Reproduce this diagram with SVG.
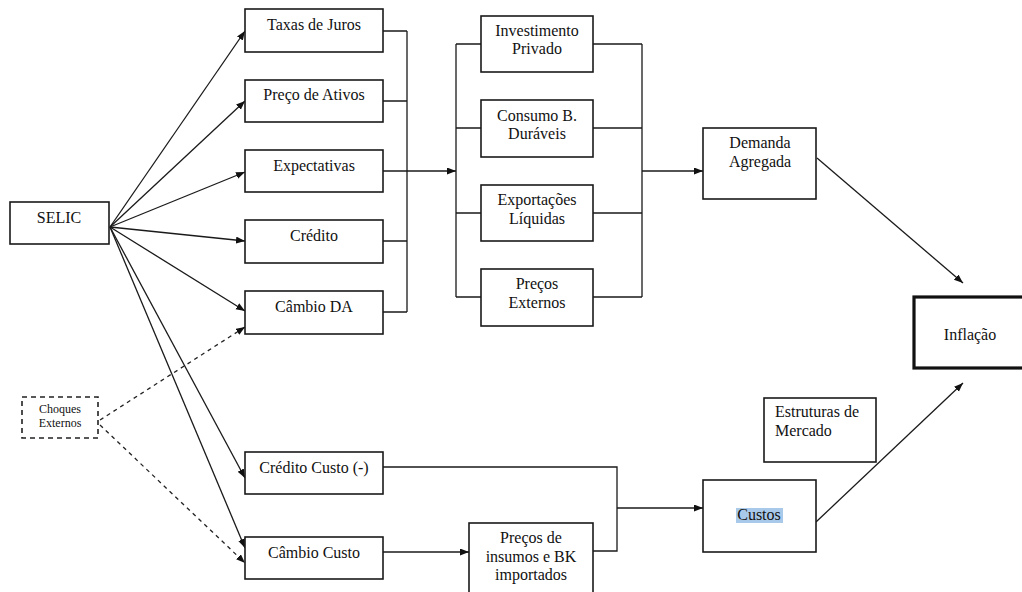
<svg xmlns="http://www.w3.org/2000/svg" width="1022" height="592" viewBox="0 0 1022 592">
<style>
.box{fill:#fff;stroke:#1a1a1a;stroke-width:1.6}
.thick{fill:#fff;stroke:#111;stroke-width:3.2}
.dash{fill:#fff;stroke:#222;stroke-width:1.6;stroke-dasharray:5 4}
.t{font-family:"Liberation Serif","Times New Roman",serif;font-size:16px;fill:#111;text-anchor:middle}
.tl{text-anchor:start}
.ts{font-size:12px}
.ln{fill:none;stroke:#1a1a1a;stroke-width:1.3}
.ar{marker-end:url(#ah)}
.dl{fill:none;stroke:#222;stroke-width:1.3;stroke-dasharray:4 4}
</style>
<defs>
<marker id="ah" markerUnits="userSpaceOnUse" markerWidth="10" markerHeight="8" refX="9" refY="3.5" orient="auto">
<path d="M0,0 L9,3.5 L0,7 z" fill="#111"/>
</marker>
</defs>
<rect width="1022" height="592" fill="#fff"/>
<g id="connectors">
<path class="ln ar" d="M110,227 L245,31"/>
<path class="ln ar" d="M110,227 L245,101"/>
<path class="ln ar" d="M110,227 L245,172"/>
<path class="ln ar" d="M110,227 L245,241"/>
<path class="ln ar" d="M110,227 L245,311"/>
<path class="ln ar" d="M110,227 L245,478"/>
<path class="ln ar" d="M110,227 L245,548"/>
<path class="dl ar" d="M100,420 L245,327"/>
<path class="dl ar" d="M100,425 L245,563"/>
<path class="ln" d="M383,31 H407 M383,101 H407 M383,241 H407 M383,312 H407 M407,31 V312"/>
<path class="ln ar" d="M383,171 H456"/>
<path class="ln" d="M456,44 V297 M456,44 H481 M456,128 H481 M456,213 H481 M456,297 H481"/>
<path class="ln" d="M593,44 H642 M593,128 H642 M593,213 H642 M593,297 H642 M642,44 V297"/>
<path class="ln ar" d="M642,171 H703"/>
<path class="ln ar" d="M817,158 L963,283"/>
<path class="ln" d="M383,467 H617 V551 H593"/>
<path class="ln ar" d="M617,508 H703"/>
<path class="ln ar" d="M383,552 H469"/>
<path class="ln ar" d="M816,522 L963,383"/>
</g>
<g id="selic"><rect class="box" x="10" y="202" width="99" height="42"/><text class="t" x="59" y="223">SELIC</text></g>
<g id="choques"><rect class="dash" x="22" y="397" width="76" height="41"/><text class="t ts" x="60" y="413">Choques</text><text class="t ts" x="60" y="427">Externos</text></g>
<g id="taxas"><rect class="box" x="245" y="9" width="138" height="43"/><text class="t" x="314" y="30">Taxas de Juros</text></g>
<g id="precoativos"><rect class="box" x="245" y="80" width="138" height="42"/><text class="t" x="314" y="100">Preço de Ativos</text></g>
<g id="expectativas"><rect class="box" x="245" y="150" width="138" height="42"/><text class="t" x="314" y="171">Expectativas</text></g>
<g id="credito"><rect class="box" x="245" y="220" width="138" height="43"/><text class="t" x="314" y="241">Crédito</text></g>
<g id="cambioda"><rect class="box" x="245" y="291" width="138" height="43"/><text class="t" x="314" y="312">Câmbio DA</text></g>
<g id="creditocusto"><rect class="box" x="245" y="452" width="138" height="42"/><text class="t" x="314" y="473">Crédito Custo (-)</text></g>
<g id="cambiocusto"><rect class="box" x="245" y="537" width="138" height="42"/><text class="t" x="314" y="558">Câmbio Custo</text></g>
<g id="investimento"><rect class="box" x="481" y="16" width="112" height="56"/><text class="t" x="537" y="36">Investimento</text><text class="t" x="537" y="54">Privado</text></g>
<g id="consumo"><rect class="box" x="481" y="100" width="112" height="57"/><text class="t" x="537" y="121">Consumo B.</text><text class="t" x="537" y="139">Duráveis</text></g>
<g id="exportacoes"><rect class="box" x="481" y="185" width="112" height="56"/><text class="t" x="537" y="205">Exportações</text><text class="t" x="537" y="224">Líquidas</text></g>
<g id="precosexternos"><rect class="box" x="481" y="269" width="112" height="57"/><text class="t" x="537" y="289">Preços</text><text class="t" x="537" y="308">Externos</text></g>
<g id="demanda"><rect class="box" x="703" y="128" width="113" height="71"/><text class="t" x="760" y="148">Demanda</text><text class="t" x="760" y="167">Agregada</text></g>
<g id="inflacao"><rect class="thick" x="914" y="297" width="112" height="71"/><text class="t" x="970" y="340">Inflação</text></g>
<g id="estruturas"><rect class="box" x="764" y="398" width="112" height="64"/><text class="t tl" x="775" y="417">Estruturas de</text><text class="t tl" x="775" y="436">Mercado</text></g>
<g id="custos"><rect class="box" x="703" y="480" width="113" height="72"/><rect x="736" y="508" width="47" height="15" fill="#a9c9ea"/><text class="t" x="759" y="520">Custos</text></g>
<g id="insumos"><rect class="box" x="469" y="523" width="124" height="74"/><text class="t" x="531" y="543">Preços de</text><text class="t" x="531" y="562">insumos e BK</text><text class="t" x="531" y="580">importados</text></g>
</svg>
